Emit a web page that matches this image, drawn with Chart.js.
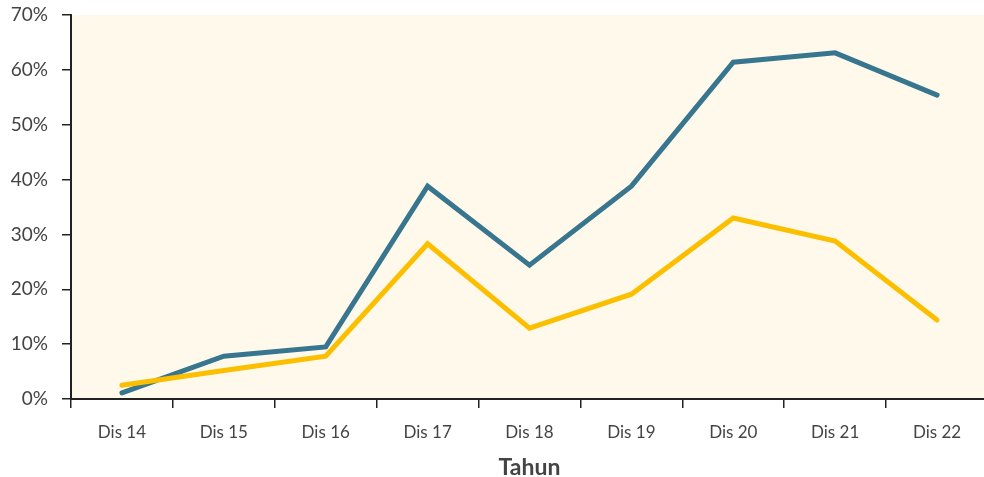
<!DOCTYPE html>
<html>
<head>
<meta charset="utf-8">
<script src="https://cdn.jsdelivr.net/npm/chart.js@4"></script>
<style>
    html, body { margin: 0; padding: 0; background: #ffffff; overflow: hidden; }
    #wrap { width: 984px; height: 477px; overflow: hidden; }
</style>
</head>
<body>
<div id="wrap"><canvas id="chart" width="988" height="477"></canvas></div>
<script>
// 데이터
const categories = ['Dis 14', 'Dis 15', 'Dis 16', 'Dis 17', 'Dis 18', 'Dis 19', 'Dis 20', 'Dis 21', 'Dis 22'];
const seriesBlue = [1.1, 7.8, 9.5, 38.8, 24.4, 38.8, 61.4, 63.1, 55.4];
const seriesYellow = [2.5, 5.2, 7.8, 28.3, 12.9, 19.1, 33.0, 28.8, 14.4];
const yTicks = [0, 10, 20, 30, 40, 50, 60, 70];

// 차트 영역 배경
const areaBg = {
    id: 'areaBg',
    beforeDraw(chart) {
        const a = chart.chartArea;
        const ctx = chart.ctx;
        ctx.save();
        ctx.fillStyle = '#fef9ea';
        ctx.fillRect(a.left, a.top, a.right - a.left, a.bottom - a.top);
        ctx.restore();
    }
};

new Chart(document.getElementById('chart').getContext('2d'), {
    type: 'line',
    data: {
        labels: categories,
        datasets: [
            {
                data: seriesYellow,
                borderColor: '#fbbf00',
                borderWidth: 5,
                borderCapStyle: 'round',
                pointRadius: 0,
                tension: 0
            },
            {
                data: seriesBlue,
                borderColor: '#38768f',
                borderWidth: 5,
                borderCapStyle: 'round',
                pointRadius: 0,
                tension: 0
            }
        ]
    },
    options: {
        responsive: false,
        animation: false,
        layout: { padding: { top: 15, right: 0, left: 0, bottom: 0 } },
        plugins: {
            legend: { display: false },
            tooltip: { enabled: false }
        },
        scales: {
            x: {
                offset: true,
                grid: {
                    offset: true,
                    drawOnChartArea: false,
                    drawTicks: true,
                    tickLength: 9,
                    color: '#222',
                    lineWidth: 1.5
                },
                border: { color: '#222', width: 2 },
                ticks: { color: '#444', font: { family: 'Lato', size: 17 }, padding: 14, maxRotation: 0 },
                title: {
                    display: true,
                    text: 'Tahun',
                    color: '#444',
                    font: { family: 'Lato', size: 23, weight: 'bold' },
                    padding: { top: 6, bottom: -4 }
                },
                afterFit(scale) {
                    scale.height = 78;
                    scale.paddingLeft = 0;
                    scale.paddingRight = 0;
                }
            },
            y: {
                min: 0,
                max: 70,
                afterBuildTicks(scale) {
                    scale.ticks = yTicks.map(v => ({ value: v }));
                },
                grid: {
                    drawOnChartArea: false,
                    drawTicks: true,
                    tickLength: 9,
                    color: '#222',
                    lineWidth: 1.5
                },
                border: { color: '#222', width: 2 },
                ticks: {
                    color: '#444',
                    font: { family: 'Lato', size: 19 },
                    padding: 14,
                    callback: v => v + '%'
                },
                afterFit(scale) {
                    scale.width = 71;
                    scale.paddingTop = 0;
                    scale.paddingBottom = 0;
                }
            }
        }
    },
    plugins: [areaBg]
});
</script>
</body>
</html>
